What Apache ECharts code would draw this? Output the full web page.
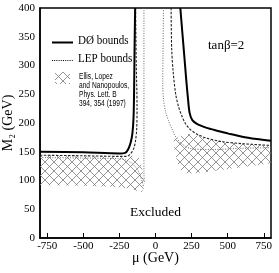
<!DOCTYPE html>
<html>
<head>
<meta charset="utf-8">
<script src="https://cdn.jsdelivr.net/npm/echarts@6/dist/echarts.min.js"></script>
<style>html,body{margin:0;padding:0;background:#fff}#c{width:279px;height:273px}</style>
</head>
<body>
<div id="c"></div>
<script>
// ---- data (mu in GeV, M2 in GeV) ----
const xTicks = [-750, -500, -250, 0, 250, 500, 750];
const yTicks = [0, 50, 100, 150, 200, 250, 300, 350, 400];

const d0Left = [[-800,150],[-500,149],[-250,147],[-210,148],[-190,154],[-172,166],[-160,182],[-152,210],[-148,260],[-145,330],[-141,400]];
const d0Right = [[172,400],[185,360],[200,315],[213,275],[224,245],[236,218],[255,205],[290,198],[350,192],[420,187],[500,182],[600,176],[700,172],[800,169]];

const dashLeft = [[-800,144],[-500,143],[-250,142],[-200,142],[-175,146],[-150,156],[-138,170],[-130,190],[-128,230],[-133,300],[-138,400]];
const dashRight = [[108,400],[112,330],[122,290],[140,250],[160,228],[180,214],[205,200],[235,190],[285,181],[350,174],[450,168],[600,164],[800,161]];

const lepLeftA = [[-800,140],[-500,139],[-260,138],[-210,136],[-170,131],[-140,124],[-115,114],[-95,100],[-80,88]];
const lepLeftB = [[-80,400],[-80,300],[-80,200],[-80,150],[-80,110],[-75,95]];
const lepRight = [[55,400],[52,320],[50,270],[56,240],[70,220],[90,204],[110,192],[140,176],[185,163],[255,155],[400,154],[600,156],[800,157]];

const hatchLeft = [[-800,143],[-500,142],[-250,141],[-200,140],[-170,142],[-140,145],[-115,140],[-95,125],[-82,105],[-78,88],[-95,80],[-130,82],[-180,86],[-300,89],[-500,91],[-800,92]];
const hatchRight = [[125,170],[160,176],[200,181],[250,181],[300,178],[400,171],[500,167],[600,164],[800,160],[800,130],[650,125],[500,120],[350,115],[250,112],[200,113],[170,120],[148,135],[132,152]];

// ---- pattern ----
function makeHatch(){
  const s = 9;
  const cv = document.createElement('canvas');
  cv.width = s; cv.height = s;
  const ctx = cv.getContext('2d');
  ctx.strokeStyle = '#7a7a7a';
  ctx.lineWidth = 0.8;
  ctx.beginPath();
  ctx.moveTo(-1,-1); ctx.lineTo(s+1,s+1);
  ctx.moveTo(s+1,-1); ctx.lineTo(-1,s+1);
  ctx.stroke();
  return cv;
}
const hatchImg = makeHatch();
const hatchFill = {image: hatchImg, repeat: 'repeat'};

function polySeries(pts){
  return {
    type: 'custom',
    silent: true,
    z: 1,
    data: pts,
    renderItem: function(params, api){
      if (params.dataIndex !== 0) return;
      const points = pts.map(p => api.coord(p));
      return {type:'polygon', shape:{points: points}, style:{fill: hatchFill, stroke: null}};
    }
  };
}
function lineSeries(data, style){
  return {type:'line', data: data, showSymbol:false, symbol:'none', smooth:0.3, z:3,
    lineStyle: style, silent:true, animation:false};
}

const serif = '"Liberation Serif", "DejaVu Serif", serif';
const sans = '"Liberation Sans", Arial, sans-serif';

const chart = echarts.init(document.getElementById('c'), null, {renderer:'canvas'});
chart.setOption({
  animation: false,
  grid: {left:40, right:8, top:8, bottom:35, containLabel:false, outerBoundsMode:'none',
    show:true, borderColor:'#000', borderWidth:1.5, backgroundColor:'transparent'},
  xAxis: {
    type:'value', min:-800, max:800,
    name:'\u03bc (GeV)', nameLocation:'middle', nameGap:13, nameMoveOverlap:false,
    nameTextStyle:{fontFamily:serif, fontSize:14, color:'#000', verticalAlign:'top'},
    axisLine:{show:true, onZero:false, lineStyle:{color:'#000', width:1.5}},
    axisTick:{show:true, inside:true, length:5, customValues:xTicks, lineStyle:{color:'#000'}},
    axisLabel:{customValues:xTicks, fontFamily:serif, fontSize:11, color:'#000', margin:3},
    splitLine:{show:false}
  },
  yAxis: {
    type:'value', min:0, max:400, interval:50,
    name:'M\u2082 (GeV)', nameLocation:'middle', nameGap:25, nameRotate:90, nameMoveOverlap:false,
    nameTextStyle:{fontFamily:serif, fontSize:14, color:'#000'},
    axisLine:{show:true, onZero:false, lineStyle:{color:'#000', width:1.5}},
    axisTick:{show:false},
    axisLabel:{fontFamily:serif, fontSize:11, color:'#000', margin:5},
    splitLine:{show:false}
  },
  series: [
    polySeries(hatchLeft),
    polySeries(hatchRight),
    lineSeries(lepLeftA, {color:'#666', width:1, type:[1,1.5]}),
    lineSeries(lepLeftB, {color:'#666', width:1, type:[1,1.5]}),
    lineSeries(lepRight, {color:'#666', width:1, type:[1,1.5]}),
    lineSeries(dashLeft, {color:'#222', width:1.1, type:[2.5,1.5]}),
    lineSeries(dashRight, {color:'#222', width:1.1, type:[2.5,1.5]}),
    lineSeries(d0Left, {color:'#000', width:2}),
    lineSeries(d0Right, {color:'#000', width:2})
  ],
  graphic: [
    {type:'line', shape:{x1:52, y1:42.5, x2:73, y2:42.5}, style:{stroke:'#000', lineWidth:2}},
    {type:'text', x:78, y:40.5, scaleX:0.85, style:{text:'D\u00d8 bounds', font:'13px '+serif, fill:'#000', verticalAlign:'middle'}},
    {type:'line', shape:{x1:52, y1:60.5, x2:73, y2:60.5}, style:{stroke:'#000', lineWidth:1, lineDash:[1,1.2]}},
    {type:'text', x:78, y:58.5, scaleX:0.85, style:{text:'LEP bounds', font:'13px '+serif, fill:'#000', verticalAlign:'middle'}},
    {type:'rect', shape:{x:55, y:72, width:15, height:12}, style:{fill:hatchFill, stroke:null}},
    {type:'text', x:79, y:72.5, scaleX:0.78, style:{text:'Ellis, Lopez\nand Nanopoulos,\nPhys. Lett. B\n394, 354 (1997)', font:'8.5px '+sans, lineHeight:9, fill:'#000'}},
    {type:'text', x:208, y:46, style:{text:'tan\u03b2=2', font:'13px '+serif, fill:'#000', verticalAlign:'middle'}},
    {type:'text', x:130, y:212, style:{text:'Excluded', font:'13.5px '+serif, fill:'#000', verticalAlign:'middle'}}
  ]
});
</script>
</body>
</html>
